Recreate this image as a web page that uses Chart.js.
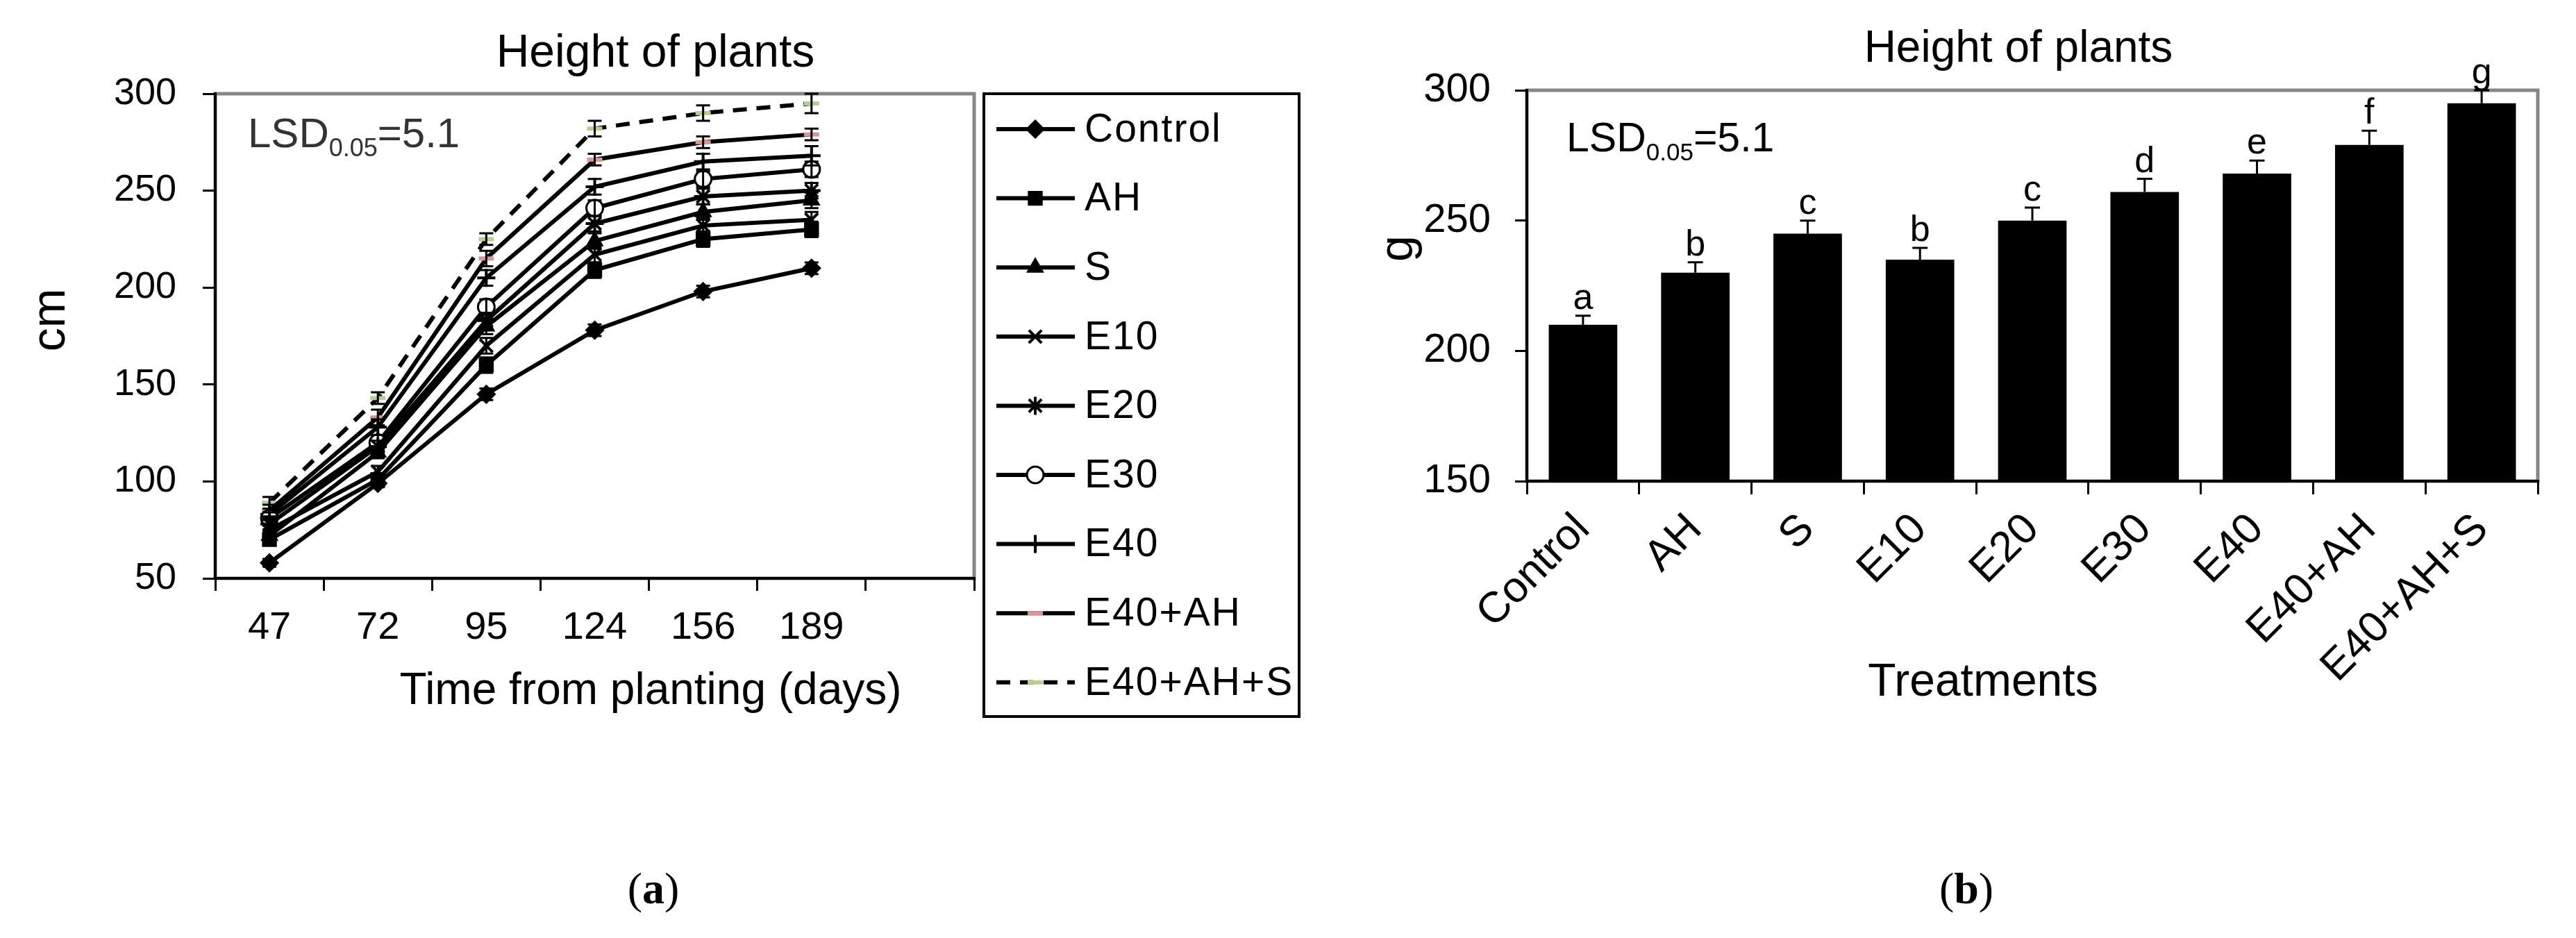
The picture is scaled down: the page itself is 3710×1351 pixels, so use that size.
<!DOCTYPE html>
<html>
<head>
<meta charset="utf-8">
<title>Height of plants</title>
<script src="https://cdn.jsdelivr.net/npm/chart.js@4.4.1/dist/chart.umd.min.js"></script>
<style>
  html, body { margin: 0; padding: 0; background: #fff; }
  #page { position: relative; width: 3710px; height: 1351px; overflow: hidden; background: #fff; }
  #lineCanvas { position: absolute; left: 0; top: 0; }
  #barCanvas { position: absolute; left: 1900px; top: 0; }
  .caption {
    position: absolute; top: 1248px; line-height: 64px;
    font-family: "Liberation Serif", "Times New Roman", serif; font-size: 64px;
    transform: translateX(-50%); color: #000;
  }
</style>
</head>
<body>
<div id="page">
  <canvas id="lineCanvas" width="1900" height="1150"></canvas>
  <canvas id="barCanvas" width="1810" height="1150"></canvas>
  <div class="caption" style="left:941px">(<b>a</b>)</div>
  <div class="caption" style="left:2832px">(<b>b</b>)</div>
</div>
<script>
// ---- data: panel (a), plant height (cm) by days from planting ----
const days = ["47", "72", "95", "124", "156", "189", ""];
const control = [58, 99, 145, 178, 198, 210];
const ah = [70, 101, 160, 209, 225, 230];
const s = [72, 115, 180, 224, 239, 245];
const e10 = [75, 105, 170, 217, 232, 235];
const e20 = [78, 118, 183, 233, 247, 250];
const e30 = [81, 120, 190, 241, 256, 261];
const e40 = [83, 128, 205, 252, 265, 268];
const e40ah = [85, 133, 215, 266, 275, 279];
const e40ahs = [89, 143, 225, 282, 290, 295];

const errControl = [2, 2, 3, 3, 3, 3];
const errAH = [2, 3, 4, 4, 4, 4];
const errS = [2, 3, 4, 4, 4, 4];
const errE10 = [2, 3, 4, 4, 4, 4];
const errE20 = [3, 3, 4, 4, 4, 4];
const errE30 = [3, 4, 4, 4, 4, 4];
const errE40 = [3, 4, 4, 4, 4, 5];
const errE40AH = [3, 4, 4, 3, 3, 3];
const errE40AHS = [3, 3, 3, 4, 4, 5];

// ---- data: panel (b), final height per treatment ----
const treatments = ["Control", "AH", "S", "E10", "E20", "E30", "E40", "E40+AH", "E40+AH+S"];
const finalHeight = [210, 230, 245, 235, 250, 261, 268, 279, 295];
const finalErr = [3.5, 4, 5, 4.5, 5, 5, 5, 5.5, 5];
const letters = ["a", "b", "c", "b", "c", "d", "e", "f", "g"];

const FONT = '"Liberation Sans", Arial, Helvetica, sans-serif';
Chart.defaults.font.family = FONT;
Chart.defaults.color = "#000";

// gray frame around the plot area (drawn under the black axes)
const plotFrame = {
  id: "plotFrame",
  beforeDraw(chart) {
    const a = chart.chartArea;
    const ctx = chart.ctx;
    ctx.save();
    ctx.strokeStyle = "#868686";
    ctx.lineWidth = 5;
    ctx.strokeRect(a.left, a.top, a.right - a.left, a.bottom - a.top);
    ctx.restore();
  }
};

// error bars and significance letters
const errorBars = {
  id: "errorBars",
  afterDatasetsDraw(chart) {
    const ctx = chart.ctx;
    const yScale = chart.scales.y;
    ctx.save();
    ctx.strokeStyle = "#000";
    ctx.fillStyle = "#000";
    chart.data.datasets.forEach((ds, di) => {
      if (!ds.errors) return;
      const meta = chart.getDatasetMeta(di);
      const cap = ds.errorCap || 10;
      ctx.lineWidth = 3;
      meta.data.forEach((el, i) => {
        const v = ds.data[i];
        const e = ds.errors[i];
        const top = yScale.getPixelForValue(v + e);
        const bottom = ds.errorUpOnly ? yScale.getPixelForValue(v) : yScale.getPixelForValue(v - e);
        ctx.beginPath();
        ctx.moveTo(el.x, top);
        ctx.lineTo(el.x, bottom);
        ctx.moveTo(el.x - cap, top);
        ctx.lineTo(el.x + cap, top);
        if (!ds.errorUpOnly) {
          ctx.moveTo(el.x - cap, bottom);
          ctx.lineTo(el.x + cap, bottom);
        }
        ctx.stroke();
        if (ds.letters) {
          ctx.font = "52px " + FONT;
          ctx.textAlign = "center";
          ctx.textBaseline = "alphabetic";
          ctx.fillText(ds.letters[i], el.x, top - 10);
        }
      });
    });
    ctx.restore();
  }
};

function drawLSD(ctx, x, baseline, size, color) {
  ctx.save();
  ctx.fillStyle = color;
  ctx.textAlign = "left";
  ctx.textBaseline = "alphabetic";
  ctx.font = size + "px " + FONT;
  ctx.fillText("LSD", x, baseline);
  x += ctx.measureText("LSD").width;
  const sub = Math.round(size * 0.6);
  ctx.font = sub + "px " + FONT;
  ctx.fillText("0.05", x, baseline + Math.round(size * 0.22));
  x += ctx.measureText("0.05").width;
  ctx.font = size + "px " + FONT;
  ctx.fillText("=5.1", x, baseline);
  ctx.restore();
}

// free text: titles, axis titles, LSD note
function textPlugin(items, lsd) {
  return {
    id: "freeText",
    afterDraw(chart) {
      const ctx = chart.ctx;
      items.forEach((t) => {
        ctx.save();
        ctx.fillStyle = "#000";
        ctx.font = t.size + "px " + FONT;
        ctx.textAlign = "center";
        ctx.textBaseline = "middle";
        ctx.translate(t.x, t.y);
        if (t.rotate) ctx.rotate(t.rotate);
        ctx.fillText(t.text, 0, 0);
        ctx.restore();
      });
      const a = chart.chartArea;
      drawLSD(ctx, a.left + lsd.dx, a.top + lsd.dy, lsd.size, lsd.color);
    }
  };
}

// boxed legend with line + marker samples
const boxLegend = {
  id: "boxLegend",
  afterDraw(chart) {
    const ctx = chart.ctx;
    const a = chart.chartArea;
    const left = a.right + 14;
    const top = a.top;
    const width = 454;
    const height = 897;
    const rowH = 99.6;
    ctx.save();
    ctx.strokeStyle = "#000";
    ctx.lineWidth = 4;
    ctx.strokeRect(left, top, width, height);
    chart.data.datasets.forEach((ds, i) => {
      const cy = top + 51 + i * rowH;
      ctx.save();
      ctx.strokeStyle = ds.borderColor;
      ctx.lineWidth = ds.borderWidth;
      ctx.setLineDash(ds.borderDash || []);
      ctx.beginPath();
      ctx.moveTo(left + 18, cy);
      ctx.lineTo(left + 131, cy);
      ctx.stroke();
      ctx.setLineDash([]);
      ctx.fillStyle = ds.pointBackgroundColor;
      ctx.strokeStyle = ds.pointBorderColor;
      ctx.lineWidth = ds.pointBorderWidth;
      if (Chart.helpers && Chart.helpers.drawPoint) {
        Chart.helpers.drawPoint(ctx, {
          pointStyle: ds.pointStyle,
          radius: ds.pointRadius,
          rotation: 0,
          borderWidth: ds.pointBorderWidth
        }, left + 74, cy);
      }
      ctx.restore();
      ctx.save();
      ctx.fillStyle = "#000";
      ctx.font = "57px " + FONT;
      ctx.letterSpacing = "2px";
      ctx.textAlign = "left";
      ctx.textBaseline = "middle";
      ctx.fillText(ds.label, left + 145, cy + 2);
      ctx.restore();
    });
    ctx.restore();
  }
};

function series(label, data, errors, style) {
  return Object.assign({
    label: label,
    data: data,
    errors: errors,
    borderColor: "#000",
    borderWidth: 6,
    tension: 0,
    fill: false,
    pointRadius: 11,
    pointBorderWidth: 3,
    pointBorderColor: "#000",
    pointBackgroundColor: "#000"
  }, style);
}

const lineDatasets = [
  series("Control", control, errControl, { pointStyle: "rectRot", pointRadius: 12 }),
  series("AH", ah, errAH, { pointStyle: "rect", pointRadius: 13 }),
  series("S", s, errS, { pointStyle: "triangle", pointRadius: 12 }),
  series("E10", e10, errE10, { pointStyle: "crossRot", pointRadius: 13, pointBorderWidth: 4 }),
  series("E20", e20, errE20, { pointStyle: "star", pointRadius: 13, pointBorderWidth: 4 }),
  series("E30", e30, errE30, { pointStyle: "circle", pointRadius: 12, pointBackgroundColor: "#fff" }),
  series("E40", e40, errE40, { pointStyle: "cross", pointRadius: 13, pointBorderWidth: 4 }),
  series("E40+AH", e40ah, errE40AH, { pointStyle: "line", pointRadius: 11, pointBorderWidth: 6,
    pointBorderColor: "#d99694", pointBackgroundColor: "#d99694" }),
  series("E40+AH+S", e40ahs, errE40AHS, { pointStyle: "line", pointRadius: 11, pointBorderWidth: 6,
    borderDash: [20, 14], pointBorderColor: "#b7cf8f", pointBackgroundColor: "#b7cf8f" })
];

function axisStyle(tickLength) {
  return {
    drawOnChartArea: false,
    drawTicks: true,
    tickLength: tickLength,
    color: "#000",
    lineWidth: 3
  };
}

new Chart(document.getElementById("lineCanvas"), {
  type: "line",
  data: { labels: days, datasets: lineDatasets },
  options: {
    responsive: false,
    animation: false,
    devicePixelRatio: 1,
    layout: { padding: { left: 0, right: 497, top: 135, bottom: 197 } },
    plugins: { legend: { display: false }, tooltip: { enabled: false }, title: { display: false } },
    scales: {
      x: {
        type: "category",
        offset: true,
        grid: Object.assign(axisStyle(18), { offset: true }),
        border: { color: "#000", width: 4 },
        ticks: { font: { size: 56 }, padding: 20, maxRotation: 0, autoSkip: false, color: "#000" },
        afterFit(scale) { scale.height = 120; }
      },
      y: {
        min: 50,
        max: 300,
        ticks: { stepSize: 50, font: { size: 54 }, padding: 38, color: "#000" },
        grid: axisStyle(18),
        border: { color: "#000", width: 4 },
        afterFit(scale) { scale.width = 310; }
      }
    }
  },
  plugins: [
    plotFrame,
    errorBars,
    boxLegend,
    textPlugin([
      { text: "Height of plants", x: 944, y: 78, size: 66 },
      { text: "cm", x: 74, y: 461, size: 68, rotate: -Math.PI / 2 },
      { text: "Time from planting (days)", x: 937, y: 996, size: 64 }
    ], { dx: 47, dy: 77, size: 60, color: "#333" })
  ]
});

new Chart(document.getElementById("barCanvas"), {
  type: "bar",
  data: {
    labels: treatments,
    datasets: [{
      label: "Height of plants",
      data: finalHeight,
      errors: finalErr,
      errorUpOnly: true,
      errorCap: 11,
      letters: letters,
      backgroundColor: "#000",
      borderWidth: 0,
      barPercentage: 0.61,
      categoryPercentage: 1
    }]
  },
  options: {
    responsive: false,
    animation: false,
    devicePixelRatio: 1,
    layout: { padding: { left: 0, right: 55, top: 130, bottom: 97 } },
    plugins: { legend: { display: false }, tooltip: { enabled: false }, title: { display: false } },
    scales: {
      x: {
        grid: Object.assign(axisStyle(19), { offset: true }),
        border: { color: "#000", width: 4 },
        ticks: { font: { size: 62 }, padding: 14, minRotation: 45, maxRotation: 45, autoSkip: false, color: "#000" },
        afterFit(scale) { scale.height = 360; }
      },
      y: {
        min: 150,
        max: 300,
        ticks: { stepSize: 50, font: { size: 58 }, padding: 35, color: "#000" },
        grid: axisStyle(17),
        border: { color: "#000", width: 4 },
        afterFit(scale) { scale.width = 299; }
      }
    }
  },
  plugins: [
    plotFrame,
    errorBars,
    textPlugin([
      { text: "Height of plants", x: 1007, y: 71, size: 64 },
      { text: "g", x: 115, y: 358, size: 68, rotate: -Math.PI / 2 },
      { text: "Treatments", x: 956, y: 984, size: 66 }
    ], { dx: 57, dy: 88, size: 59, color: "#000" })
  ]
});
</script>
</body>
</html>
